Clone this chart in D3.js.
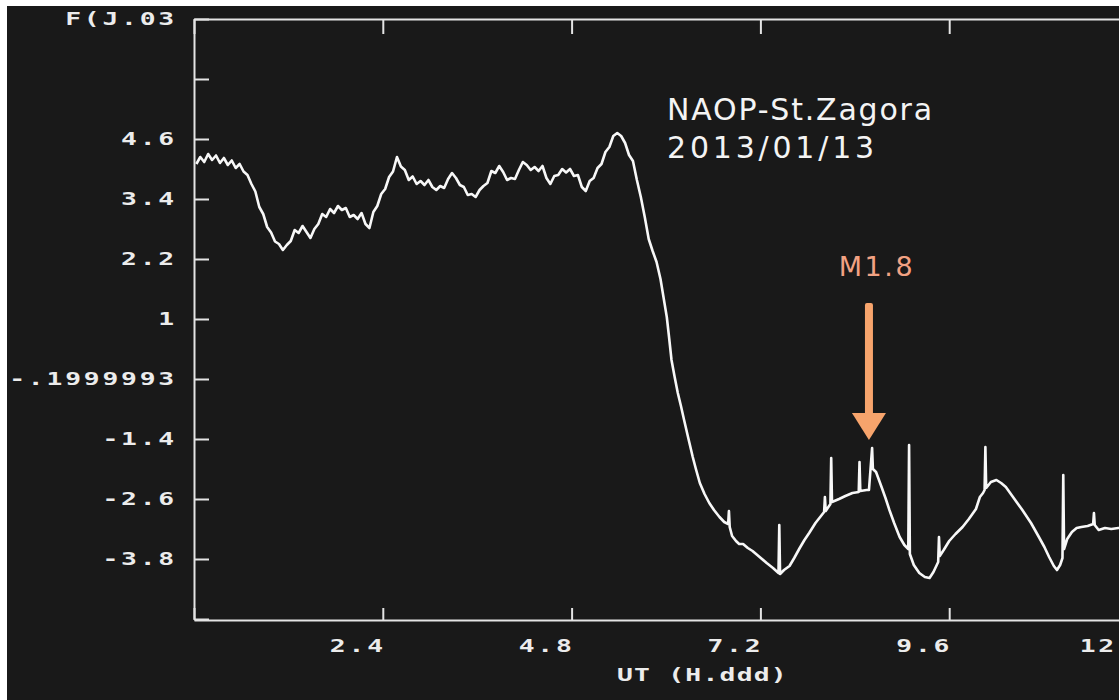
<!DOCTYPE html>
<html>
<head>
<meta charset="utf-8">
<script src="https://cdn.jsdelivr.net/npm/d3@7/dist/d3.min.js"></script>
<style>
  html, body { margin: 0; padding: 0; background: #191919; overflow: hidden; }
  svg { display: block; }
</style>
</head>
<body>
<svg id="chart" width="1119" height="700"></svg>
<script>
// Recorded signal, [UT hours, level]; spikes are single samples.
const morning = [
  [0.03,4.10],[0.08,4.24],[0.13,4.14],[0.18,4.30],[0.23,4.18],[0.28,4.27],[0.33,4.12],[0.38,4.22],
  [0.43,4.08],[0.48,4.17],[0.53,4.02],[0.58,4.10],[0.63,3.95],[0.68,3.88],[0.73,3.70],[0.78,3.55],
  [0.83,3.24],[0.88,3.10],[0.93,2.84],[0.98,2.73],[1.03,2.55],[1.08,2.50],[1.13,2.38],[1.18,2.48],
  [1.23,2.56],[1.28,2.78],[1.33,2.72],[1.38,2.86],[1.43,2.74],[1.48,2.62],[1.53,2.80],[1.58,2.90],
  [1.63,3.10],[1.68,3.04],[1.73,3.20],[1.78,3.12],[1.83,3.26],[1.88,3.18],[1.93,3.22],[1.98,3.04],
  [2.03,3.08],[2.08,3.00],[2.13,3.12],[2.18,2.90],[2.23,2.82],[2.28,3.14],[2.33,3.26],[2.38,3.50],
  [2.43,3.60],[2.48,3.84],[2.53,3.95],[2.58,4.24],[2.63,4.05],[2.68,3.98],[2.73,3.78],[2.78,3.85],
  [2.83,3.70],[2.88,3.76],[2.93,3.68],[2.98,3.78],[3.03,3.64],[3.08,3.58],[3.13,3.66],[3.18,3.62],
  [3.23,3.80],[3.28,3.92],[3.33,3.82],[3.38,3.68],[3.43,3.64],[3.48,3.48],[3.53,3.50],[3.58,3.44],
  [3.63,3.58],[3.68,3.66],[3.73,3.72],[3.78,3.96],[3.83,3.92],[3.88,4.06],[3.93,3.94],[3.98,3.78],
  [4.03,3.82],[4.08,3.80],[4.13,3.98],[4.18,4.14],[4.23,4.08],[4.28,3.98],[4.33,4.04],[4.38,3.96],
  [4.43,4.06],[4.48,3.82],[4.53,3.70],[4.58,3.86],[4.63,3.88],[4.68,4.00],[4.73,3.93],[4.78,4.00],
  [4.83,3.86],[4.88,3.88],[4.93,3.64],[4.98,3.56],[5.03,3.76],[5.08,3.82],[5.13,4.02],[5.18,4.10],
  [5.23,4.34],[5.28,4.44],[5.33,4.66],[5.38,4.72],[5.43,4.66],[5.48,4.52],[5.53,4.28],[5.58,4.16],
  [5.63,3.78],[5.68,3.44],[5.73,3.04],[5.78,2.60],[5.83,2.36],[5.88,2.14],[5.93,1.80]
];

const decline = [
  [6.01,1.04],[6.04,0.62],[6.07,0.18],[6.11,-0.16],[6.15,-0.48],[6.19,-0.74],[6.23,-1.02],[6.28,-1.36],
  [6.34,-1.76],[6.38,-2.00],[6.43,-2.28],[6.49,-2.50],[6.55,-2.68],[6.61,-2.82],[6.68,-2.96],[6.74,-3.06],
  [6.79,-3.10],[6.80,-2.84],[6.81,-3.16],[6.84,-3.34],[6.89,-3.44],[6.93,-3.50],[6.98,-3.50],[7.04,-3.58],
  [7.10,-3.64],[7.19,-3.76],[7.28,-3.88],[7.36,-3.98],[7.43,-4.08],[7.44,-3.12],[7.45,-4.10]
];

const afternoon = [
  [7.50,-4.02],[7.57,-3.94],[7.63,-3.78],[7.70,-3.58],[7.76,-3.42],[7.82,-3.28],[7.90,-3.08],[7.99,-2.90],
  [8.01,-2.86],[8.02,-2.56],[8.03,-2.84],[8.09,-2.70],[8.10,-1.78],[8.11,-2.66],[8.20,-2.60],[8.28,-2.54],
  [8.37,-2.48],[8.45,-2.46],[8.46,-1.86],[8.47,-2.44],[8.55,-2.42],[8.58,-2.42],[8.62,-1.58],[8.63,-2.00],
  [8.67,-2.06],[8.74,-2.36],[8.79,-2.58],[8.84,-2.82],[8.90,-3.08],[8.97,-3.36],[9.03,-3.52],[9.08,-3.60],
  [9.09,-1.52],[9.10,-3.70],[9.15,-3.92],[9.22,-4.08],[9.29,-4.16],[9.35,-4.18],[9.40,-4.06],[9.43,-3.96],
  [9.46,-3.86],[9.47,-3.36],[9.48,-3.74],[9.53,-3.62],[9.60,-3.44],[9.68,-3.30],[9.77,-3.16],[9.85,-3.00],
  [9.94,-2.80],[9.99,-2.56],[10.03,-2.48],[10.05,-2.42],[10.06,-1.56],[10.07,-2.38],[10.13,-2.26],[10.20,-2.22],
  [10.26,-2.28],[10.32,-2.36],[10.42,-2.58],[10.53,-2.82],[10.64,-3.08],[10.74,-3.36],[10.81,-3.56],[10.87,-3.76],
  [10.93,-3.94],[10.97,-4.02],[11.01,-3.92],[11.04,-3.78],[11.05,-2.12],[11.06,-3.60],[11.10,-3.40],[11.16,-3.26],
  [11.22,-3.18],[11.28,-3.16],[11.36,-3.14],[11.43,-3.10],[11.44,-2.88],[11.45,-3.12],[11.50,-3.22],[11.58,-3.18],
  [11.66,-3.20],[11.75,-3.18],[11.88,-3.18],[12.00,-3.18]
];

// Axis ticks and their printed labels
const xTicks = [0, 2.4, 4.8, 7.2, 9.6, 12];
const xTickLabels = ["", "2.4", "4.8", "7.2", "9.6", "12"];
const yTicks = [-5, -3.8, -2.6, -1.4, -0.2, 1, 2.2, 3.4, 4.6, 5.8, 7];
const yTickLabels = ["", "-3.8", "-2.6", "-1.4", "-.1999993", "1", "2.2", "3.4", "4.6", "", "F(J.03"];

// Annotations
const station = ["NAOP-St.Zagora", "2013/01/13"];
const flare = { label: "M1.8", ut: 8.58, from: 1.32, to: -1.42 };

const svg = d3.select("#chart");
const W = 1119, H = 700;
const plot = { left: 194, right: 1138, top: 19, bottom: 619 };

svg.append("rect").attr("width", W).attr("height", H).attr("fill", "#191919");

const x = d3.scaleLinear().domain([0, 12]).range([plot.left, plot.right]);
const y = d3.scaleLinear().domain([-5, 7]).range([plot.bottom, plot.top]);

const axisColor = "#e4e4e4";
function styleAxis(g) {
  g.selectAll("path.domain").attr("stroke", axisColor).attr("stroke-width", 2);
  g.selectAll(".tick line").attr("stroke", axisColor).attr("stroke-width", 2);
  g.selectAll(".tick text").remove();
}

svg.append("g").attr("transform", `translate(${plot.left},0)`)
  .call(d3.axisLeft(y).tickValues(yTicks).tickSizeInner(-15).tickSizeOuter(0).tickFormat(""))
  .call(styleAxis);
svg.append("g").attr("transform", `translate(0,${plot.bottom + 1})`)
  .call(d3.axisBottom(x).tickValues(xTicks).tickSizeInner(-12).tickSizeOuter(0).tickFormat(""))
  .call(styleAxis);
svg.append("g").attr("transform", `translate(0,${plot.top})`)
  .call(d3.axisTop(x).tickValues(xTicks).tickSizeInner(-15).tickSizeOuter(0).tickFormat(""))
  .call(styleAxis);

// Blocky terminal-style lettering
function termText(parent, px, py, str, anchor, spacing) {
  const g = parent.append("g").attr("transform", `translate(${px},${py})`);
  g.append("text")
    .attr("transform", "scale(1.55,1)")
    .attr("text-anchor", anchor)
    .style("font-family", "'DejaVu Sans Mono', monospace")
    .style("font-weight", "bold")
    .style("font-size", "17px")
    .style("letter-spacing", spacing + "px")
    .attr("fill", "#ececec")
    .text(str);
}

yTicks.forEach((v, i) => {
  if (yTickLabels[i]) termText(svg, 177, y(v) + 6, yTickLabels[i], "end", 1.8);
});
xTicks.forEach((v, i) => {
  if (!xTickLabels[i]) return;
  // the last label is pulled in so it stays inside the page
  const px = Math.min(x(v) + 3, W - 2);
  termText(svg, px, 652, xTickLabels[i], "end", 1.8);
});
termText(svg, 617, 681, "UT (H.ddd)", "start", 0.8);

// Signal trace
const line = d3.line().x(d => x(d[0])).y(d => y(d[1]));
svg.append("path")
  .datum(morning.concat(decline, afternoon))
  .attr("d", line)
  .attr("fill", "none")
  .attr("stroke", "#f8f8f8")
  .attr("stroke-width", 2.6)
  .attr("stroke-linejoin", "round");

// Station and date
svg.append("text").attr("x", 667).attr("y", 120)
  .style("font-family", "'DejaVu Sans', sans-serif").style("font-size", "30px")
  .style("letter-spacing", "1.8px").attr("fill", "#f4f4f4").text(station[0]);
svg.append("text").attr("x", 667).attr("y", 158)
  .style("font-family", "'DejaVu Sans', sans-serif").style("font-size", "30px")
  .style("letter-spacing", "3.8px").attr("fill", "#f4f4f4").text(station[1]);

// Flare marker
const ax = x(flare.ut), ay0 = y(flare.from), ay1 = y(flare.to);
const headLen = 27, headHalf = 17, shaft = 8;
const arrowColor = "#f7a46c";
const arrow = svg.append("g");
arrow.append("rect")
  .attr("x", ax - shaft / 2).attr("y", ay0)
  .attr("width", shaft).attr("height", ay1 - headLen - ay0 + 2)
  .attr("rx", 2).attr("fill", arrowColor);
arrow.append("path")
  .attr("d", `M${ax - headHalf},${ay1 - headLen} L${ax + headHalf},${ay1 - headLen} L${ax},${ay1} Z`)
  .attr("fill", arrowColor);
svg.append("text").attr("x", ax + 8).attr("y", 276)
  .attr("text-anchor", "middle")
  .style("font-family", "'DejaVu Sans', sans-serif").style("font-size", "27px")
  .style("letter-spacing", "2.5px").attr("fill", "#f2a283").text(flare.label);

// Light frame along the top and left edges
svg.append("rect").attr("x", 0).attr("y", 0).attr("width", W).attr("height", 6).attr("fill", "#ffffff");
svg.append("rect").attr("x", 0).attr("y", 0).attr("width", 7).attr("height", H).attr("fill", "#ffffff");
</script>
</body>
</html>
